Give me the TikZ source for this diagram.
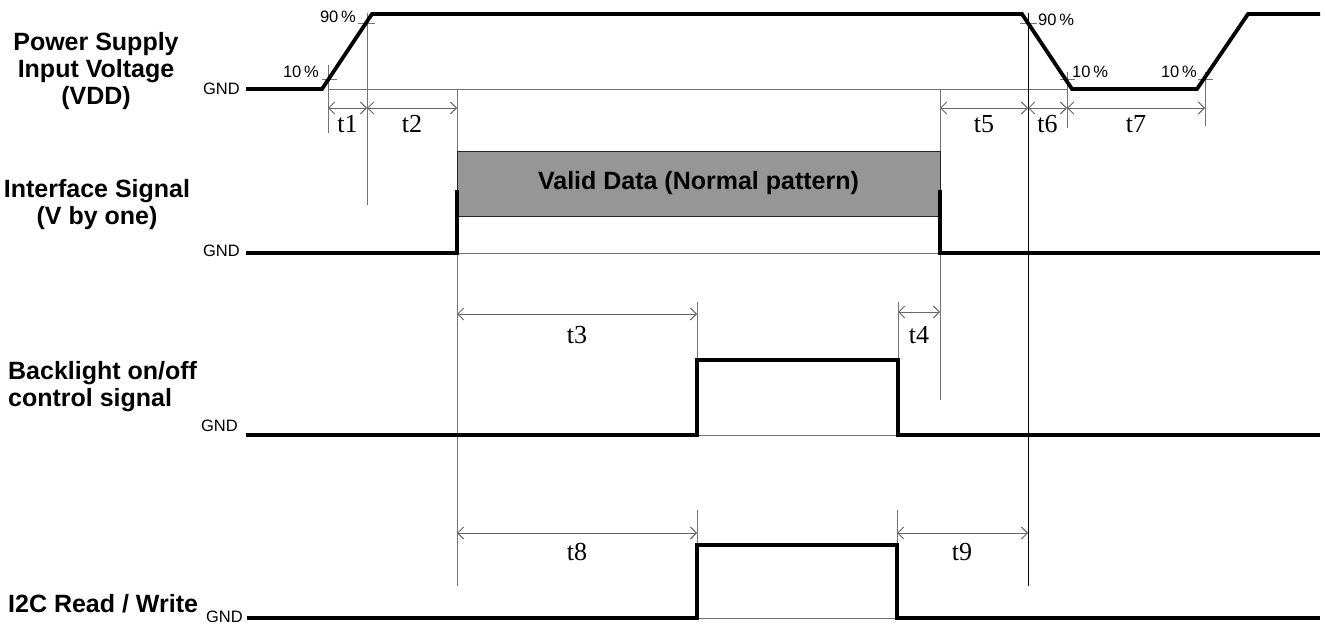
\documentclass[tikz,border=0pt]{standalone}
\usepackage{fontspec}
\setmainfont{Liberation Serif}
\newfontfamily\arial{Liberation Sans}
\usetikzlibrary{arrows.meta}
\begin{document}
\begin{tikzpicture}[x=1pt,y=-1pt,
  sig/.style={line width=3.8pt},
  guide/.style={line width=0.9pt,black!55},
  dim/.style={line width=0.9pt,black!60,{Straight Barb[length=6pt,width=12pt]}-{Straight Barb[length=6pt,width=12pt]}},
  lbl/.style={font=\arial\bfseries\fontsize{25}{27}\selectfont,inner sep=0pt},
  gnd/.style={font=\arial\fontsize{16.5}{18}\selectfont,anchor=east,inner sep=0pt},
  pct/.style={font=\arial\fontsize{16.5}{18}\selectfont,inner sep=0pt},
  tl/.style={font=\fontsize{26}{28}\selectfont,inner sep=0pt,anchor=base}]
\useasboundingbox (0,0) rectangle (1327,624);
% row labels
\node[lbl,align=center,anchor=north] (vddlbl) at (96,32) {Power Supply\\Input Voltage\\(VDD)};
\node[lbl,align=center,anchor=north] (iflbl) at (97,179) {Interface Signal\\(V by one)};
\node[lbl,align=left,anchor=north west] (bllbl) at (8,361) {Backlight on/off\\control signal};
\node[lbl,anchor=north west] (i2clbl) at (8,594) {I2C Read / Write};
\node[gnd] (gndvdd) at (240,89) {GND};
\node[gnd] (gndif) at (240,251) {GND};
\node[gnd] (gndbl) at (238,426) {GND};
\node[gnd] (gndi2c) at (243,617) {GND};
% guide lines
\draw[guide] (328,89) -- (1067,89);
\draw[guide] (328,65) -- (328,133);
\draw[guide] (322,79) -- (337,79);
\draw[guide] (367,13) -- (367,205);
\draw[guide] (358,23) -- (375,23);
\draw[guide] (457,89) -- (457,586);
\draw[guide] (940,89) -- (940,400);
\draw[line width=0.9pt] (1028,13) -- (1028,586);
\draw[guide] (1020,23) -- (1037,23);
\draw[guide] (1067,72) -- (1067,128);
\draw[guide] (1060,79) -- (1075,79);
\draw[guide] (1205,72) -- (1205,126);
\draw[guide] (1198,79) -- (1213,79);
\draw[guide] (457,253) -- (940,253);
\draw[guide] (697,302) -- (697,435) -- (898,435);
\draw[guide] (898,302) -- (898,360);
\draw[guide] (697,510) -- (697,618) -- (897,618);
\draw[guide] (897,510) -- (897,545);
% percent marks
\node[pct,anchor=east] (p10a) at (319,72) {10\,\%};
\node[pct,anchor=east] (p90a) at (356,17) {90\,\%};
\node[pct,anchor=west] (p90b) at (1038,20) {90\,\%};
\node[pct,anchor=west] (p10b) at (1072,72) {10\,\%};
\node[pct,anchor=east] (p10c) at (1197,72) {10\,\%};
% timings
\draw[dim] (328,108) -- (367,108);
\draw[dim] (367,108) -- (457,108);
\draw[dim] (940,108) -- (1028,108);
\draw[dim] (1028,108) -- (1067,108);
\draw[dim] (1067,108) -- (1205,108);
\draw[dim] (457,314) -- (697,314);
\draw[dim] (898,312) -- (940,312);
\draw[dim] (457,533) -- (697,533);
\draw[dim] (897,533) -- (1028,533);
\node[tl] (t1) at (347.5,132) {t1};
\node[tl] (t2) at (412,132) {t2};
\node[tl] (t5) at (984,132) {t5};
\node[tl] (t6) at (1047.5,132) {t6};
\node[tl] (t7) at (1136,132) {t7};
\node[tl] (t3) at (577,343) {t3};
\node[tl] (t4) at (919,343) {t4};
\node[tl] (t8) at (577,560) {t8};
\node[tl] (t9) at (962,560) {t9};
% signals
\node[lbl,draw=black!85,line width=0.9pt,fill=black!41,minimum width=483pt,minimum height=65pt] (valid) at (698.5,183.5) {Valid Data (Normal pattern)};
\draw[sig] (246,89) -- (322,89) -- (372,14) -- (1022,14) -- (1072,89) -- (1197,89) -- (1248,14) -- (1320,14);
\draw[sig] (246,253) -- (457,253) -- (457,190);
\draw[sig] (940,190) -- (940,253) -- (1320,253);
\draw[sig] (246,435) -- (697,435) -- (697,360) -- (898,360) -- (898,435) -- (1320,435);
\draw[sig] (247,618) -- (697,618) -- (697,545) -- (897,545) -- (897,618) -- (1320,618);
\end{tikzpicture}
\end{document}
